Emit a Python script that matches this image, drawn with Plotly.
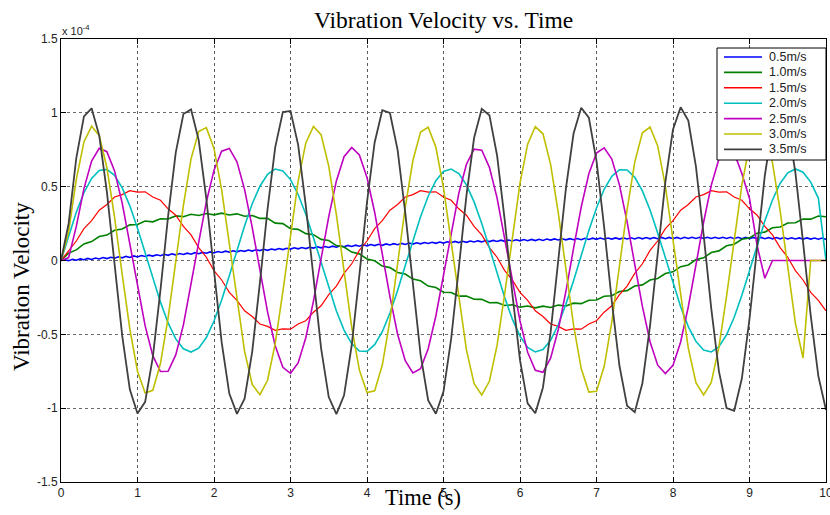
import plotly.graph_objects as go

# ---------------- data (units of 1e-4) ----------------
time_s = [round(0.1 * k, 1) for k in range(101)]
time_fine = [round(0.05 * i, 2) for i in range(201)]

series_names = ["0.5m/s", "1.0m/s", "1.5m/s", "2.0m/s", "2.5m/s", "3.0m/s", "3.5m/s"]
series_colors = ["#0000FF", "#008000", "#FF0000", "#00BFBF", "#BF00BF", "#BFBF00", "#404040"]

v05 = [0.000, 0.005, -0.001, 0.008, 0.002, 0.011, 0.005, 0.014, 0.007, 0.017, 0.010,
       0.020, 0.013, 0.022, 0.016, 0.025, 0.018, 0.028, 0.021, 0.031, 0.024,
       0.034, 0.027, 0.036, 0.030, 0.039, 0.032, 0.042, 0.035, 0.045, 0.038,
       0.047, 0.041, 0.050, 0.043, 0.053, 0.046, 0.055, 0.049, 0.058, 0.051,
       0.061, 0.054, 0.063, 0.057, 0.066, 0.059, 0.068, 0.062, 0.071, 0.064,
       0.073, 0.067, 0.076, 0.069, 0.078, 0.072, 0.081, 0.074, 0.083, 0.077,
       0.086, 0.079, 0.088, 0.081, 0.090, 0.084, 0.093, 0.086, 0.095, 0.088,
       0.097, 0.090, 0.100, 0.093, 0.102, 0.095, 0.104, 0.097, 0.106, 0.099,
       0.108, 0.101, 0.110, 0.103, 0.112, 0.105, 0.114, 0.107, 0.116, 0.109,
       0.118, 0.111, 0.120, 0.113, 0.122, 0.115, 0.123, 0.116, 0.125, 0.118,
       0.127, 0.120, 0.129, 0.121, 0.130, 0.123, 0.132, 0.125, 0.133, 0.126,
       0.135, 0.128, 0.136, 0.129, 0.138, 0.130, 0.139, 0.132, 0.140, 0.133,
       0.142, 0.134, 0.143, 0.135, 0.144, 0.136, 0.145, 0.138, 0.146, 0.139,
       0.147, 0.140, 0.148, 0.141, 0.149, 0.141, 0.150, 0.142, 0.151, 0.143,
       0.152, 0.144, 0.152, 0.145, 0.153, 0.145, 0.153, 0.146, 0.154, 0.146,
       0.155, 0.147, 0.155, 0.147, 0.155, 0.148, 0.156, 0.148, 0.156, 0.148,
       0.156, 0.148, 0.157, 0.149, 0.157, 0.149, 0.157, 0.149, 0.157, 0.149,
       0.157, 0.149, 0.157, 0.149, 0.157, 0.148, 0.157, 0.148, 0.156, 0.148,
       0.156, 0.148, 0.156, 0.148, 0.155, 0.147, 0.155, 0.147, 0.155, 0.146,
       0.154, 0.146, 0.153, 0.145, 0.153, 0.145, 0.152, 0.144, 0.152, 0.143]

v10 = [0.000, 0.050, 0.072, 0.112, 0.128, 0.162, 0.172, 0.205, 0.213, 0.241,
       0.244, 0.267, 0.262, 0.283, 0.281, 0.302, 0.297, 0.313, 0.305, 0.318,
       0.309, 0.321, 0.308, 0.316, 0.300, 0.305, 0.285, 0.286, 0.253, 0.250,
       0.215, 0.211, 0.182, 0.175, 0.143, 0.135, 0.101, 0.091, 0.057, 0.045,
       0.010, -0.002, -0.038, -0.048, -0.081, -0.092, -0.126, -0.137, -0.173, -0.183,
       -0.215, -0.217, -0.241, -0.240, -0.262, -0.263, -0.286, -0.285, -0.305, -0.300,
       -0.316, -0.308, -0.321, -0.309, -0.318, -0.302, -0.308, -0.289, -0.292, -0.269,
       -0.268, -0.242, -0.239, -0.210, -0.204, -0.173, -0.165, -0.132, -0.122, -0.088,
       -0.077, -0.042, -0.030, 0.006, 0.018, 0.054, 0.065, 0.100, 0.110, 0.144,
       0.153, 0.185, 0.192, 0.222, 0.227, 0.254, 0.256, 0.281, 0.280, 0.301,
       0.296]

v15 = [0.000, 0.068, 0.132, 0.216, 0.270, 0.341, 0.379, 0.430, 0.446, 0.473,
       0.463, 0.465, 0.430, 0.408, 0.350, 0.307, 0.231, 0.173, 0.087, 0.022,
       -0.068, -0.132, -0.216, -0.270, -0.341, -0.379, -0.430, -0.446, -0.473, -0.463,
       -0.465, -0.430, -0.408, -0.350, -0.307, -0.231, -0.173, -0.087, -0.022, 0.068,
       0.132, 0.216, 0.270, 0.341, 0.379, 0.430, 0.446, 0.473, 0.463, 0.465,
       0.430, 0.408, 0.350, 0.307, 0.231, 0.173, 0.087, 0.022, -0.068, -0.132,
       -0.216, -0.270, -0.341, -0.379, -0.430, -0.446, -0.473, -0.463, -0.465, -0.430,
       -0.408, -0.350, -0.307, -0.231, -0.173, -0.087, -0.022, 0.068, 0.132, 0.216,
       0.270, 0.341, 0.379, 0.430, 0.446, 0.473, 0.463, 0.465, 0.430, 0.408,
       0.350, 0.307, 0.231, 0.173, 0.087, 0.022, -0.068, -0.132, -0.216, -0.270,
       -0.341]

v20 = [0.000, 0.170, 0.327, 0.459, 0.556, 0.610, 0.617, 0.577, 0.492, 0.370,
       0.219, 0.052, -0.120, -0.282, -0.423, -0.531, -0.598, -0.620, -0.594, -0.522,
       -0.410, -0.267, -0.103, 0.069, 0.235, 0.384, 0.503, 0.583, 0.619, 0.607,
       0.548, 0.447, 0.313, 0.154, -0.017, -0.187, -0.342, -0.471, -0.563, -0.613,
       -0.615, -0.570, -0.482, -0.356, -0.203, -0.034, 0.137, 0.297, 0.435, 0.540,
       0.603, 0.619, 0.589, 0.512, 0.397, 0.251, 0.086, -0.086, -0.251, -0.397,
       -0.512, -0.589, -0.619, -0.603, -0.540, -0.435, -0.297, -0.137, 0.034, 0.203,
       0.356, 0.482, 0.570, 0.615, 0.613, 0.563, 0.471, 0.342, 0.187, 0.017,
       -0.154, -0.313, -0.448, -0.548, -0.607, -0.619, -0.583, -0.503, -0.384, -0.235,
       -0.069, 0.103, 0.267, 0.410, 0.522, 0.594, 0.620, 0.598, 0.531, 0.423,
       0.000]

v25 = [0.000, 0.020, 0.231, 0.487, 0.673, 0.760, 0.737, 0.607, 0.389, 0.114,
       -0.177, -0.443, -0.644, -0.752, -0.750, -0.639, -0.436, -0.169, 0.123, 0.396,
       0.612, 0.740, 0.759, 0.668, 0.480, 0.223, -0.067, -0.348, -0.577, -0.723,
       -0.764, -0.694, -0.523, -0.275, 0.012, 0.297, 0.539, 0.703, 0.765, 0.715,
       0.562, 0.327, 0.044, -0.245, -0.499, -0.679, -0.762, -0.733, -0.598, -0.376,
       -0.100, 0.192, 0.455, 0.652, 0.754, 0.747, 0.631, 0.424, 0.154, -0.137,
       -0.409, -0.621, -0.743, -0.757, -0.661, -0.469, -0.209, 0.082, 0.361, 0.587,
       0.728, 0.763, 0.687, 0.512, 0.262, -0.026, -0.311, -0.550, -0.709, -0.765,
       -0.710, -0.552, -0.313, -0.029, 0.259, 0.509, 0.686, 0.763, 0.729, 0.589,
       0.420, 0.100, -0.120, 0.000, 0.000, 0.000, 0.000, 0.000, 0.000, 0.000,
       0.000]

v30 = [0.000, 0.195, 0.550, 0.803, 0.909, 0.846, 0.628, 0.294, -0.094, -0.465,
       -0.750, -0.897, -0.879, -0.698, -0.389, -0.008, 0.374, 0.688, 0.874, 0.900,
       0.759, 0.479, 0.110, -0.279, -0.616, -0.840, -0.909, -0.811, -0.563, -0.211,
       0.180, 0.537, 0.796, 0.908, 0.852, 0.639, 0.309, -0.078, -0.451, -0.741,
       -0.894, -0.883, -0.708, -0.403, -0.024, 0.360, 0.677, 0.870, 0.902, 0.768,
       0.492, 0.126, -0.264, -0.605, -0.834, -0.910, -0.818, -0.575, -0.226, 0.164,
       0.524, 0.788, 0.906, 0.858, 0.651, 0.324, -0.063, -0.437, -0.732, -0.891,
       -0.886, -0.718, -0.417, -0.040, 0.345, 0.666, 0.865, 0.904, 0.776, 0.506,
       0.142, -0.248, -0.593, -0.827, -0.910, -0.825, -0.587, -0.242, 0.148, 0.511,
       0.780, 0.905, 0.863, 0.662, 0.339, -0.047, -0.424, -0.660, 0.000, 0.000,
       0.000]

v35 = [0.000, 0.251, 0.694, 0.976, 1.031, 0.846, 0.464, -0.025, -0.509, -0.874,
       -1.036, -0.957, -0.656, -0.201, 0.300, 0.731, 0.992, 1.023, 0.815, 0.418,
       -0.076, -0.553, -0.901, -1.039, -0.936, -0.615, -0.151, 0.348, 0.766, 1.006,
       1.012, 0.783, 0.371, -0.126, -0.595, -0.925, -1.040, -0.913, -0.574, -0.101,
       0.395, 0.799, 1.018, 0.999, 0.749, 0.324, -0.176, -0.636, -0.947, -1.038,
       -0.888, -0.531, -0.051, 0.441, 0.831, 1.027, 0.984, 0.713, 0.275, -0.226,
       -0.675, -0.967, -1.034, -0.860, -0.487, 0.000, 0.487, 0.860, 1.034, 0.967,
       0.675, 0.226, -0.275, -0.713, -0.984, -1.027, -0.831, -0.441, 0.051, 0.531,
       0.888, 1.038, 0.947, 0.636, 0.176, -0.324, -0.749, -0.999, -1.018, -0.799,
       -0.395, 0.101, 0.574, 0.913, 1.040, 0.925, 0.595, 0.126, -0.372, -0.783,
       -1.012]

y_ticks = [-1.5, -1.0, -0.5, 0.0, 0.5, 1.0, 1.5]
y_ticktext = ["-1.5", "-1", "-0.5", "0", "0.5", "1", "1.5"]
x_ticks = [0, 1, 2, 3, 4, 5, 6, 7, 8, 9, 10]

series_x = [time_fine, time_s, time_s, time_s, time_s, time_s, time_s]
series_y = [v05, v10, v15, v20, v25, v30, v35]
series_w = [1.6, 1.6, 1.2, 1.6, 1.6, 1.6, 1.8]

# ---------------- figure ----------------
W, H = 830, 515
ML, MR, MT, MB = 61, 4, 39, 33
PW, PH = W - ML - MR, H - MT - MB


def px_x(px):
    return (px - ML) / PW


def px_y(py):
    return (H - MB - py) / PH


fig = go.Figure()
for xs, ys, name, col, w in zip(series_x, series_y, series_names, series_colors, series_w):
    fig.add_trace(go.Scatter(x=xs, y=ys, mode="lines", name=name,
                             line=dict(color=col, width=w), showlegend=False))

tickfont = dict(family="Liberation Sans, Arial, sans-serif", size=12, color="#222")
fig.update_xaxes(range=[0, 10], tickvals=x_ticks, showgrid=True, gridcolor="#5a5a5a",
                 griddash="dot", gridwidth=1, showline=True, linecolor="#000", linewidth=1,
                 mirror="ticks", ticks="inside", ticklen=5, tickcolor="#000",
                 tickfont=tickfont, zeroline=False, ticklabeloverflow="allow",
                 automargin=False)
fig.update_yaxes(range=[-1.5, 1.5], tickvals=y_ticks, ticktext=y_ticktext, showgrid=True,
                 gridcolor="#6a6a6a", griddash="3px,3px", gridwidth=1, showline=True,
                 linecolor="#000", linewidth=1, mirror="ticks", ticks="inside", ticklen=5,
                 tickcolor="#000", tickfont=tickfont, zeroline=False, automargin=False)

serif = "Liberation Serif, Times New Roman, serif"
annotations = [
    dict(text="Vibration Velocity vs. Time", x=0.5, y=px_y(20), xref="paper", yref="paper",
         showarrow=False, font=dict(family=serif, size=23.5, color="#000"),
         xanchor="center", yanchor="middle"),
    dict(text="Time (s)", x=px_x(423), y=px_y(497), xref="paper", yref="paper",
         showarrow=False, font=dict(family=serif, size=22.5, color="#000"),
         xanchor="center", yanchor="middle"),
    dict(text="Vibration Velocity", x=px_x(21), y=px_y(287), xref="paper", yref="paper",
         showarrow=False, textangle=-90, font=dict(family=serif, size=23, color="#000"),
         xanchor="center", yanchor="middle"),
    dict(text="x 10<sup>-4</sup>", x=px_x(60), y=px_y(30), xref="paper", yref="paper",
         showarrow=False, font=dict(family="Liberation Sans, Arial, sans-serif", size=11, color="#222"),
         xanchor="left", yanchor="middle"),
]

# legend box drawn as shapes + text
shapes = [dict(type="rect", xref="paper", yref="paper", x0=px_x(717), x1=px_x(826),
               y0=px_y(160), y1=px_y(48), fillcolor="#fff", line=dict(color="#000", width=1),
               layer="above")]
for i, (name, col) in enumerate(zip(series_names, series_colors)):
    cy = 57 + 15.4 * i
    shapes.append(dict(type="line", xref="paper", yref="paper", x0=px_x(724), x1=px_x(762),
                       y0=px_y(cy), y1=px_y(cy), line=dict(color=col, width=1.6), layer="above"))
    annotations.append(dict(text=name, x=px_x(767), y=px_y(cy), xref="paper", yref="paper",
                            showarrow=False, xanchor="left", yanchor="middle",
                            font=dict(family="Liberation Sans, Arial, sans-serif", size=12.5,
                                      color="#222")))

fig.update_layout(width=W, height=H, margin=dict(l=ML, r=MR, t=MT, b=MB, autoexpand=False),
                  plot_bgcolor="#fff", paper_bgcolor="#fff", showlegend=False,
                  annotations=annotations, shapes=shapes)

fig.write_html("out.html")
